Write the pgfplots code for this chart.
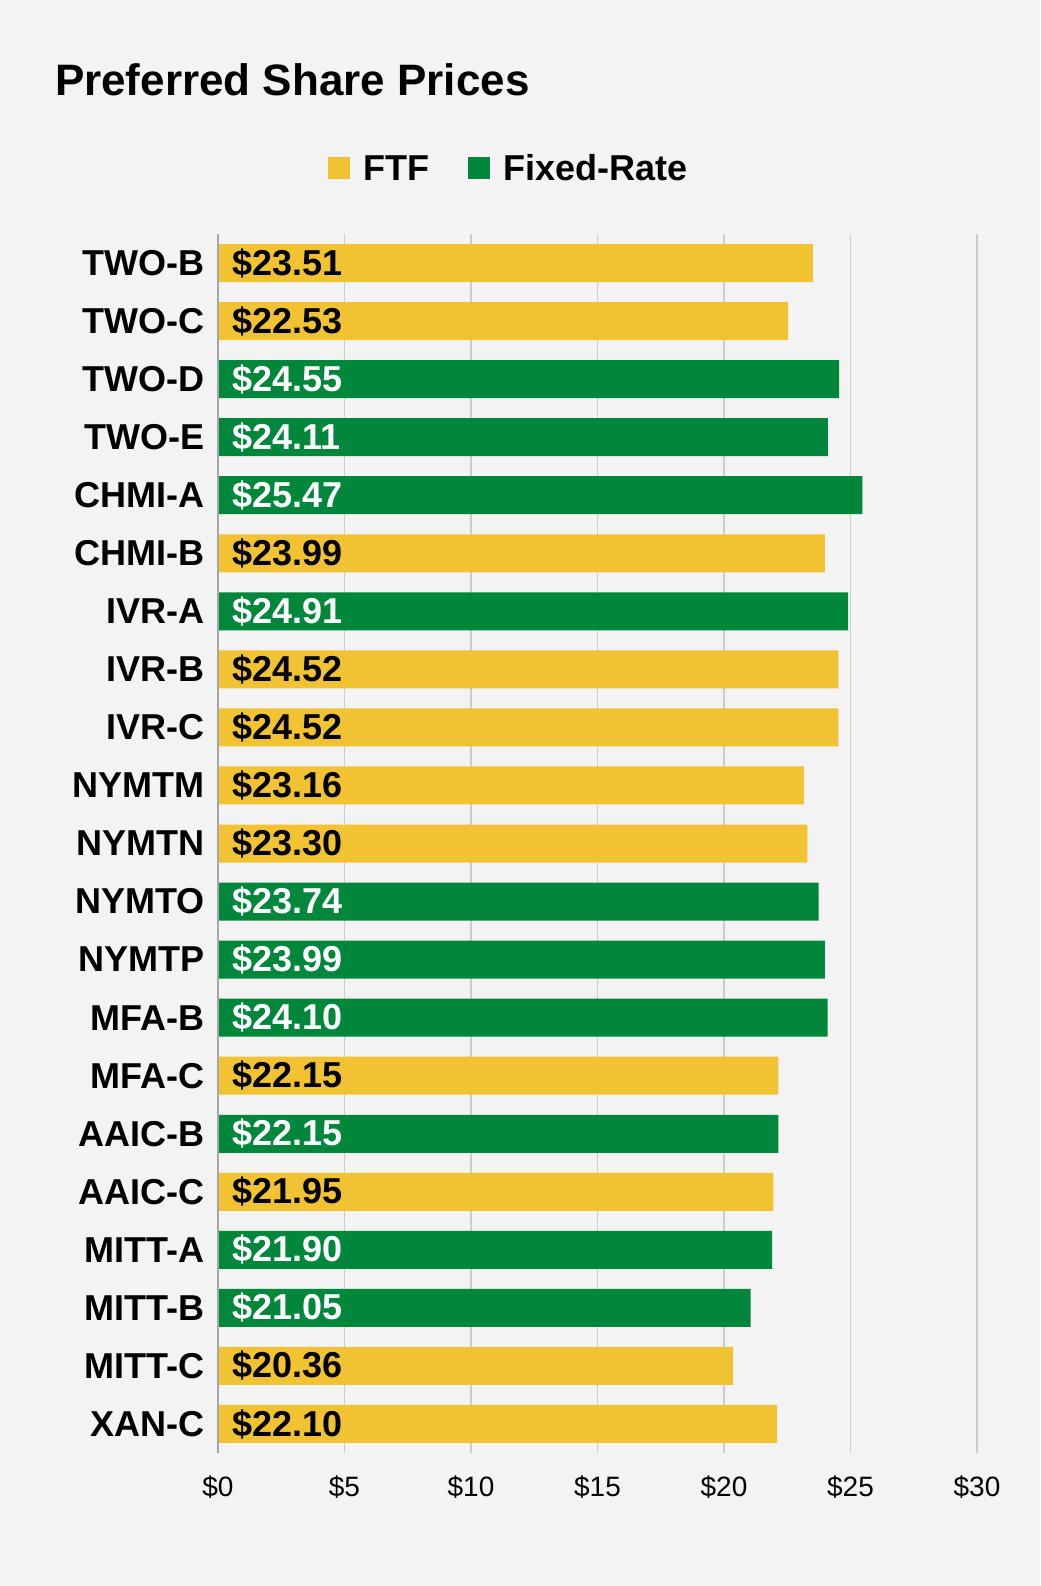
\documentclass[border=0pt]{standalone}
\usepackage{pgfplots}
\pgfplotsset{compat=1.18}
\usepackage{fontspec}
\setmainfont{Liberation Sans}
\definecolor{ylw}{HTML}{F1C232}
\definecolor{grn}{HTML}{00873C}
\definecolor{bg}{HTML}{F3F3F3}
\begin{document}
\begin{tikzpicture}
\fill[bg] (0pt,0pt) rectangle (520pt,793pt);
\node[anchor=west,font=\bfseries\fontsize{22}{26}\selectfont] at (24pt,753pt) {Preferred Share Prices};
\fill[ylw] (164pt,703.5pt) rectangle (175pt,714.5pt);
\node[anchor=west,font=\bfseries\fontsize{18}{22}\selectfont] at (178pt,709pt) {FTF};
\fill[grn] (234pt,703.5pt) rectangle (245pt,714.5pt);
\node[anchor=west,font=\bfseries\fontsize{18}{22}\selectfont] at (248pt,709pt) {Fixed-Rate};
\begin{axis}[at={(109pt,66.5pt)},anchor=south west,scale only axis,
 width=379.5pt,height=609.5pt,
 xmin=0,xmax=30,ymin=-0.5,ymax=20.5,y dir=reverse,
 xbar,bar width=19pt,bar shift=0pt,
 axis line style={draw=none},
 xtick={0,5,...,30},xticklabel={\$\pgfmathprintnumber{\tick}},
 xticklabel style={font=\fontsize{14}{16}\selectfont,yshift=-8pt},
 /pgf/number format/assume math mode=true,
 xmajorgrids,grid style={gray!40,line width=0.8pt},
 major tick length=0pt,
 ytick={0,...,20},
 yticklabels={TWO-B,TWO-C,TWO-D,TWO-E,CHMI-A,CHMI-B,IVR-A,IVR-B,IVR-C,NYMTM,NYMTN,NYMTO,NYMTP,MFA-B,MFA-C,AAIC-B,AAIC-C,MITT-A,MITT-B,MITT-C,XAN-C},
 yticklabel style={font=\bfseries\fontsize{18}{22}\selectfont,xshift=-3pt},
 clip=false]
\addplot[fill=ylw,draw=none] coordinates {(23.51,0) (22.53,1) (23.99,5) (24.52,7) (24.52,8) (23.16,9) (23.30,10) (22.15,14) (21.95,16) (20.36,19) (22.10,20)};
\addplot[fill=grn,draw=none] coordinates {(24.55,2) (24.11,3) (25.47,4) (24.91,6) (23.74,11) (23.99,12) (24.10,13) (22.15,15) (21.90,17) (21.05,18)};
\draw[gray!70,line width=0.8pt] (axis cs:0,-0.5) -- (axis cs:0,20.5);
\tikzset{vl/.style={anchor=west,font=\bfseries\fontsize{18}{22}\selectfont}}
\node[vl] at (axis cs:0.3,0) {\$23.51};
\node[vl] at (axis cs:0.3,1) {\$22.53};
\node[vl,white] at (axis cs:0.3,2) {\$24.55};
\node[vl,white] at (axis cs:0.3,3) {\$24.11};
\node[vl,white] at (axis cs:0.3,4) {\$25.47};
\node[vl] at (axis cs:0.3,5) {\$23.99};
\node[vl,white] at (axis cs:0.3,6) {\$24.91};
\node[vl] at (axis cs:0.3,7) {\$24.52};
\node[vl] at (axis cs:0.3,8) {\$24.52};
\node[vl] at (axis cs:0.3,9) {\$23.16};
\node[vl] at (axis cs:0.3,10) {\$23.30};
\node[vl,white] at (axis cs:0.3,11) {\$23.74};
\node[vl,white] at (axis cs:0.3,12) {\$23.99};
\node[vl,white] at (axis cs:0.3,13) {\$24.10};
\node[vl] at (axis cs:0.3,14) {\$22.15};
\node[vl,white] at (axis cs:0.3,15) {\$22.15};
\node[vl] at (axis cs:0.3,16) {\$21.95};
\node[vl,white] at (axis cs:0.3,17) {\$21.90};
\node[vl,white] at (axis cs:0.3,18) {\$21.05};
\node[vl] at (axis cs:0.3,19) {\$20.36};
\node[vl] at (axis cs:0.3,20) {\$22.10};
\end{axis}
\end{tikzpicture}
\end{document}
